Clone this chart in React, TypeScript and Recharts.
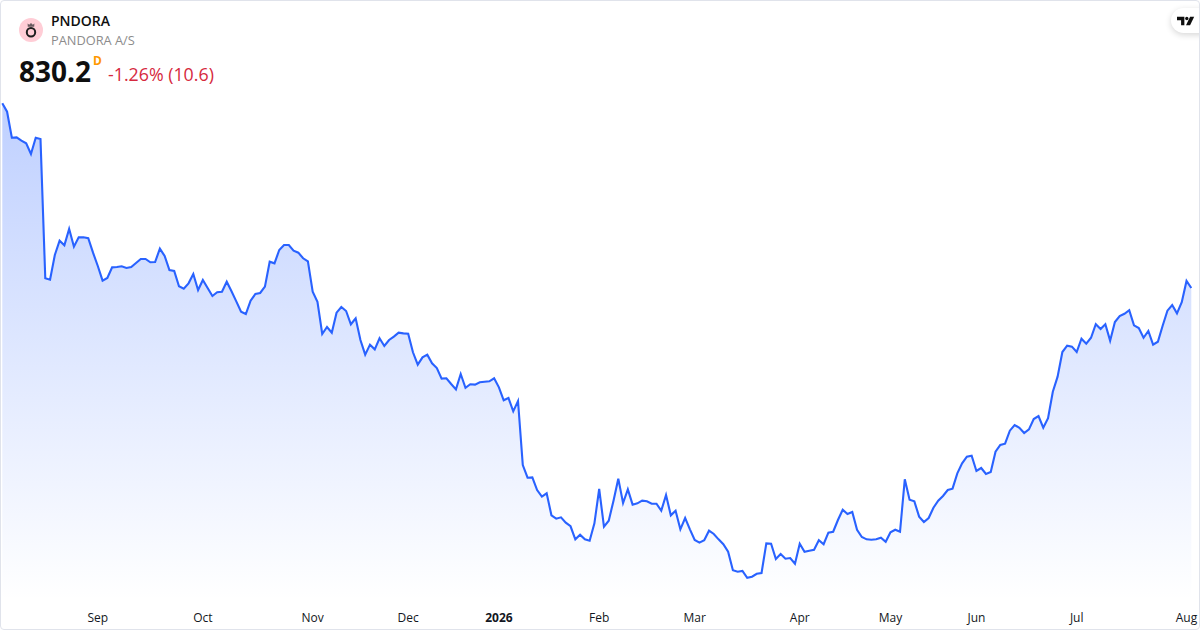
import { Area, AreaChart, XAxis, YAxis } from "recharts"

const closes = [
  1107.2, 1094.6, 1055.6, 1056.2, 1051.2, 1047.2, 1031.2, 1055.6, 1053.7, 844.8,
  842.6, 879.7, 901.2, 894.2, 918.7, 892.2, 906.2, 906.2, 904.8, 883.2,
  863.2, 841.2, 845.2, 861.2, 861.7, 862.8, 860.2, 861.7, 867.7, 873.7,
  873.7, 868.8, 869.2, 889.2, 878.2, 857.2, 855.7, 832.8, 829.2, 837.2,
  851.2, 827.2, 842.2, 830.2, 818.2, 823.8, 824.6, 839.6, 825.2, 810.2,
  794.6, 791.2, 811.2, 821.2, 822.7, 832.2, 869.6, 867.2, 887.2, 894.7,
  894.7, 886.2, 883.2, 874.8, 870.2, 824.6, 809.6, 761.2, 771.7, 763.2,
  793.2, 801.7, 795.7, 775.8, 784.8, 752.2, 730.2, 745.2, 738.2, 754.8,
  743.2, 752.2, 757.2, 763.2, 762.2, 761.6, 733.8, 715.2, 726.2, 730.2,
  717.2, 710.2, 694.2, 694.8, 686.2, 678.2, 701.2, 680.6, 685.8, 685.2,
  688.8, 689.6, 690.2, 694.8, 681.2, 661.8, 665.2, 645.2, 660.7, 564.7,
  545.6, 546.2, 527.2, 517.2, 522.2, 489.2, 484.2, 486.2, 478.2, 472.8,
  453.2, 460.2, 453.2, 451.2, 477.2, 528.7, 472.2, 481.2, 511.2, 544.2,
  507.7, 528.2, 505.2, 507.2, 511.2, 510.2, 506.6, 506.6, 496.2, 519.7,
  489.2, 496.2, 468.2, 485.2, 468.2, 452.2, 448.2, 451.8, 466.2, 461.2,
  453.2, 445.8, 434.6, 406.8, 404.6, 405.7, 395.6, 397.2, 401.6, 402.7,
  447.2, 446.6, 423.7, 431.2, 424.2, 425.2, 416.6, 446.6, 434.6, 436.2,
  437.6, 451.8, 445.8, 463.2, 464.6, 482.2, 497.6, 491.2, 494.2, 467.6,
  456.7, 453.2, 452.6, 453.2, 455.6, 449.6, 463.8, 467.6, 464.6, 543.2,
  512.6, 510.2, 487.2, 479.2, 485.2, 500.6, 511.2, 518.2, 527.2, 529.2,
  552.2, 567.2, 577.2, 578.6, 555.7, 560.2, 551.2, 554.2, 584.6, 594.7,
  596.6, 616.2, 624.7, 620.6, 612.7, 618.2, 633.7, 638.2, 620.6, 634.8,
  674.6, 697.2, 734.2, 743.6, 742.2, 734.2, 754.2, 746.6, 755.6, 775.8,
  768.7, 775.8, 751.2, 779.2, 788.2, 791.6, 796.8, 774.2, 770.2, 755.6,
  765.7, 745.2, 749.6, 773.6, 796.2, 804.7, 792.2, 808.8, 840.8, 830.2,
]

const tickLabels = ["Sep", "Oct", "Nov", "Dec", "2026", "Feb", "Mar", "Apr", "May", "Jun", "Jul", "Aug"]
const tickBars = [20, 42, 65, 85, 104, 125, 145, 167, 186, 204, 225, 248]

const chartData = closes.map((close, bar) => ({ bar, close }))

const FONT = "'Open Sans', sans-serif"

function MonthTick({ x, y, payload }: any) {
  const label = tickLabels[tickBars.indexOf(payload.value)]
  return (
    <text
      x={x}
      y={y + 16}
      textAnchor="middle"
      fontFamily={FONT}
      fontSize={12}
      fontWeight={label === "2026" ? 700 : 400}
      fill="#131722"
    >
      {label}
    </text>
  )
}

export default function App() {
  return (
    <div style={{ position: "relative", width: 1200, height: 630, overflow: "hidden", background: "#fff", fontFamily: FONT }}>
      <style>{"body{margin:0}"}</style>
      <AreaChart width={1200} height={630} data={chartData} margin={{ top: 0, right: 8.7, bottom: 0, left: 2.3 }}>
        <defs>
          <linearGradient id="fade" x1="0" y1="0" x2="0" y2="1">
            <stop offset="0%" stopColor="#2962ff" stopOpacity={0.3} />
            <stop offset="100%" stopColor="#2962ff" stopOpacity={0} />
          </linearGradient>
        </defs>
        <XAxis
          dataKey="bar"
          type="number"
          domain={[0, closes.length - 1]}
          ticks={tickBars}
          interval={0}
          height={30}
          axisLine={false}
          tickLine={false}
          tick={(props: any) => <MonthTick {...props} />}
          tickMargin={0}
        />
        <YAxis hide domain={[362.2, 1262.2]} />
        <Area
          type="linear"
          dataKey="close"
          stroke="#2962ff"
          strokeWidth={2.1}
          fill="url(#fade)"
          fillOpacity={1}
          dot={false}
          activeDot={false}
          isAnimationActive={false}
        />
      </AreaChart>

      {/* header */}
      <svg width={26} height={26} style={{ position: "absolute", left: 18, top: 17 }}>
        <circle cx={13} cy={13} r={12} fill="#ffcdd6" />
        <circle cx={13} cy={15.3} r={4.2} fill="none" stroke="#1e1e1e" strokeWidth={2} />
        <path d="M9.8 9.8 L9.6 6.6 L11.2 7.8 L13 6 L14.8 7.8 L16.4 6.6 L16.2 9.8 Z" fill="#6b5b60" />
      </svg>
      <span style={{ position: "absolute", left: 51, top: 11, fontSize: 14, lineHeight: "19px", fontWeight: 600, color: "#0f0f0f" }}>
        PNDORA
      </span>
      <span style={{ position: "absolute", left: 51, top: 32, fontSize: 12.8, lineHeight: "17px", color: "#8c8c8c" }}>
        PANDORA A/S
      </span>
      <span style={{ position: "absolute", left: 19, top: 52, fontSize: 28, lineHeight: "38px", fontWeight: 700, color: "#0f0f0f" }}>
        830.2
      </span>
      <span style={{ position: "absolute", left: 93, top: 53, fontSize: 12, lineHeight: "16px", fontWeight: 700, color: "#ff9800" }}>
        D
      </span>
      <span style={{ position: "absolute", left: 108, top: 62, fontSize: 17.8, lineHeight: "25px", color: "#d6293e" }}>
        -1.26% (10.6)
      </span>

      {/* logo pill, top right */}
      <div
        style={{
          position: "absolute",
          left: 1171,
          top: 8,
          width: 50,
          height: 25,
          borderRadius: 13,
          background: "#fff",
          boxShadow: "0 2px 6px rgba(0,0,0,0.16)",
        }}
      />
      <svg width={18} height={10} viewBox="0 0 22 12" preserveAspectRatio="none" style={{ position: "absolute", left: 1176.5, top: 15.5 }}>
        <path d="M0 1 H9 V11 H5 V5 H0 Z" fill="#0f0f0f" />
        <circle cx={12} cy={3} r={2} fill="#0f0f0f" />
        <path d="M16 1 H21 L16 11 H11 Z" fill="#0f0f0f" />
      </svg>

      {/* card frame */}
      <div
        style={{
          position: "absolute",
          inset: 0,
          boxSizing: "border-box",
          border: "1px solid #e0e3eb",
          borderRadius: 4,
          pointerEvents: "none",
        }}
      />
    </div>
  )
}
